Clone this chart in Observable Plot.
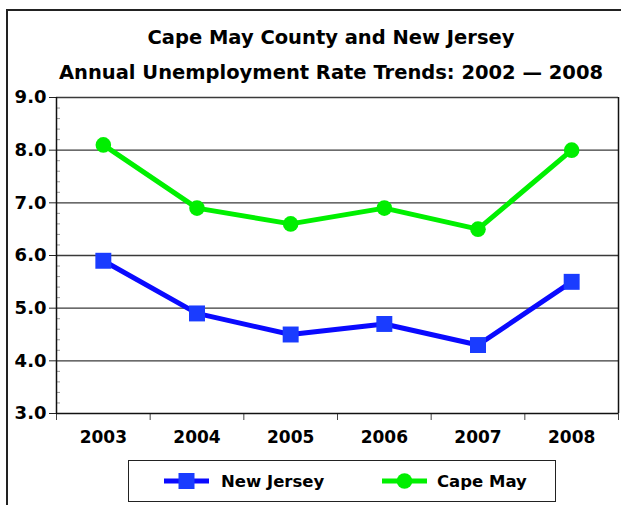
<!DOCTYPE html>
<html>
<head>
<meta charset="utf-8">
<script src="https://cdn.jsdelivr.net/npm/d3@7"></script>
<script src="https://cdn.jsdelivr.net/npm/@observablehq/plot@0.6"></script>
<style>
  html, body { margin: 0; padding: 0; background: #fff; }
  #wrap { position: relative; width: 621px; height: 505px; overflow: hidden; font-family: "DejaVu Sans", sans-serif; font-weight: bold; }
  #border { position: absolute; left: 6px; top: 9px; width: 700px; height: 600px; border: 2px solid #222; box-sizing: border-box; }
  #title { position: absolute; left: 0; top: 20px; width: 662px; text-align: center; font-size: 19.5px; line-height: 35px; color: #000; }
  #chart { position: absolute; left: 0; top: 85px; }
  #legend { position: absolute; left: 128px; top: 460px; width: 428px; height: 42px; border: 1.5px solid #222; box-sizing: border-box; background: #fff; }
  .item { position: absolute; top: 0; height: 40px; display: flex; align-items: center; font-size: 16.5px; }
</style>
</head>
<body>
<div id="wrap">
  <div id="border"></div>
  <div id="title">Cape May County and New Jersey<br>Annual Unemployment Rate Trends: 2002 — 2008</div>
  <div id="chart"></div>
  <div id="legend"></div>
</div>
<script>
const years = [2003, 2004, 2005, 2006, 2007, 2008];
const newJersey = [5.9, 4.9, 4.5, 4.7, 4.3, 5.5];
const capeMay = [8.1, 6.9, 6.6, 6.9, 6.5, 8.0];
const yTicks = [3, 4, 5, 6, 7, 8, 9];
const seriesNames = ["New Jersey", "Cape May"];
const seriesColors = { line: ["#0a0aff", "#00f000"], marker: ["#1a3cff", "#00ee00"] };

const njData = years.map((y, i) => ({ year: y, value: newJersey[i] }));
const cmData = years.map((y, i) => ({ year: y, value: capeMay[i] }));
const boundaries = years.map(y => y - 0.5).concat([years[years.length - 1] + 0.5]);
const minorTicks = d3.range(yTicks[0], yTicks[yTicks.length - 1], 0.2).filter(v => Math.abs(v - Math.round(v)) > 0.01);
const xDomain = [boundaries[0], boundaries[boundaries.length - 1]];

const chart = Plot.plot({
  width: 621,
  height: 372,
  marginLeft: 56,
  marginRight: 3,
  marginTop: 12,
  marginBottom: 44,
  style: { fontFamily: "DejaVu Sans, sans-serif", fontWeight: "bold", color: "#000", background: "transparent" },
  x: { domain: xDomain, axis: null },
  y: { domain: [yTicks[0], yTicks[yTicks.length - 1]], axis: null },
  marks: [
    Plot.ruleY(yTicks.slice(1), { stroke: "#3a3a3a", strokeWidth: 1.3 }),
    Plot.axisY(minorTicks, { tickSize: -4, tickFormat: () => "", stroke: "#999", anchor: "left", label: null }),
    Plot.axisY(yTicks, { anchor: "left", tickSize: 7, tickPadding: 3, tickFormat: d => d.toFixed(1), fontSize: 18, fontWeight: "bold", label: null, stroke: "#222" }),
    Plot.axisX(boundaries, { anchor: "bottom", tickSize: 7, tickFormat: () => "", stroke: "#444", label: null }),
    Plot.axisX(years, { anchor: "bottom", tickSize: 0, tickPadding: 17, tickFormat: d => String(d), fontSize: 17, fontWeight: "bold", label: null }),
    Plot.ruleX([xDomain[0]], { stroke: "#111", strokeWidth: 1.5 }),
    Plot.ruleX([xDomain[1]], { stroke: "#111", strokeWidth: 1.5 }),
    Plot.ruleY([yTicks[0]], { stroke: "#111", strokeWidth: 1.5 }),
    Plot.line(njData, { x: "year", y: "value", stroke: seriesColors.line[0], strokeWidth: 5 }),
    Plot.dot(njData, { x: "year", y: "value", symbol: "square", r: 9, fill: seriesColors.marker[0], stroke: "none" }),
    Plot.line(cmData, { x: "year", y: "value", stroke: seriesColors.line[1], strokeWidth: 5 }),
    Plot.dot(cmData, { x: "year", y: "value", symbol: "circle", r: 7.8, fill: seriesColors.marker[1], stroke: "none" })
  ]
});
document.getElementById("chart").appendChild(chart);

// legend
const legend = document.getElementById("legend");
const legendPos = [{ mark: 35, text: 92 }, { mark: 253, text: 308 }];
seriesNames.forEach((name, i) => {
  const item = document.createElement("div");
  item.className = "item";
  item.style.left = legendPos[i].mark + "px";
  const sym = i === 0
    ? `<rect x="14.5" y="6" width="16" height="16" fill="${seriesColors.marker[0]}"/>`
    : `<circle cx="22.5" cy="14" r="7.8" fill="${seriesColors.marker[1]}"/>`;
  item.innerHTML = `<svg width="45" height="28" style="display:block"><line x1="0" x2="45" y1="14" y2="14" stroke="${seriesColors.line[i]}" stroke-width="5"/>${sym}</svg><span style="margin-left:${legendPos[i].text - legendPos[i].mark - 45}px">${name}</span>`;
  legend.appendChild(item);
});
</script>
</body>
</html>
